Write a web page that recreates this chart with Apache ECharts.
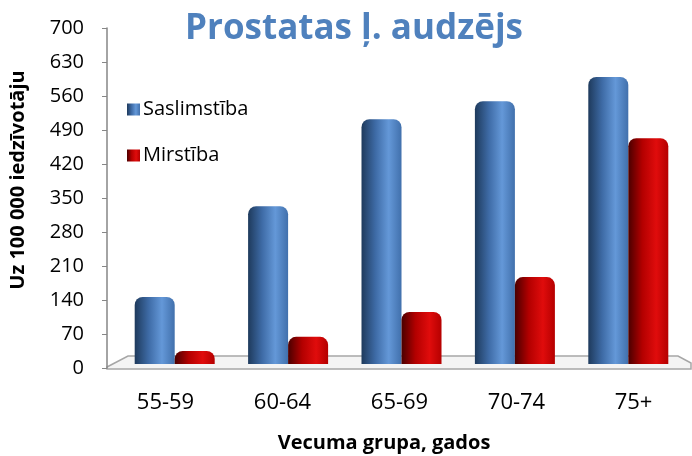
<!DOCTYPE html>
<html>
<head>
<meta charset="utf-8">
<script src="https://cdn.jsdelivr.net/npm/echarts@6/dist/echarts.min.js"></script>
<style>
html,body{margin:0;padding:0;background:#fff;}
#c{width:692px;height:456px;}
</style>
</head>
<body>
<div id="c"></div>
<script>
var categories = ['55-59', '60-64', '65-69', '70-74', '75+'];
var saslimstiba = [138, 325, 504, 541, 591];
var mirstiba = [27, 56, 107, 179, 465];
var yTicks = [0, 70, 140, 210, 280, 350, 420, 490, 560, 630, 700];
var titleText = 'Prostatas ļ. audzējs';
var yName = 'Uz 100 000 iedzīvotāju';
var xName = 'Vecuma grupa, gados';
var seriesNames = ['Saslimstība', 'Mirstība'];

var FONT = '"Open Sans", sans-serif';
var blueGrad = new echarts.graphic.LinearGradient(0, 0, 1, 0, [
  {offset: 0, color: '#1e3a5c'},
  {offset: 0.35, color: '#3e6ba6'},
  {offset: 0.68, color: '#6498d8'},
  {offset: 1, color: '#4170ac'}
]);
var redGrad = new echarts.graphic.LinearGradient(0, 0, 1, 0, [
  {offset: 0, color: '#4a0000'},
  {offset: 0.35, color: '#b30000'},
  {offset: 0.7, color: '#e00c0c'},
  {offset: 1, color: '#b50000'}
]);

var chart = echarts.init(document.getElementById('c'), null, {renderer: 'canvas'});
chart.setOption({
  animation: false,
  title: {
    text: titleText,
    left: 349, top: 7, textAlign: 'center',
    textStyle: {fontFamily: FONT, fontWeight: 'bold', fontSize: 35, color: '#4f81bd'}
  },
  legend: {
    orient: 'vertical', left: 122, top: 93,
    icon: 'rect',
    itemWidth: 13, itemHeight: 12, itemGap: 23,
    data: seriesNames,
    textStyle: {fontFamily: FONT, fontSize: 20, color: '#000', lineHeight: 23, padding: [0,0,0,-2]}
  },
  graphic: [
    {
      type: 'polygon', z: 0,
      shape: {points: [[107, 367], [128, 356], [678, 356], [691, 363], [691, 369], [107, 369]]},
      style: {fill: '#f4f4f4', stroke: '#a6a6a6', lineWidth: 1.5}
    },
    {
      type: 'text', rotation: Math.PI / 2,
      x: 18, y: 180,
      style: {text: yName, fontFamily: FONT, fontWeight: 'bold', fontSize: 20, fill: '#000',
              textAlign: 'center', textVerticalAlign: 'middle'}
    },
    {
      type: 'text', x: 384, y: 443,
      style: {text: xName, fontFamily: FONT, fontWeight: 'bold', fontSize: 20, fill: '#000',
              textAlign: 'center', textVerticalAlign: 'middle'}
    }
  ],
  grid: [
    {left: 118, right: 7, top: 24, bottom: 92},
    {left: 107, right: 0, top: 28, bottom: 88}
  ],
  xAxis: [
    {type: 'category', gridIndex: 0, data: categories, show: false},
    {type: 'category', gridIndex: 1, data: categories,
     axisLine: {show: false}, axisTick: {show: false},
     axisLabel: {fontFamily: FONT, fontSize: 22, color: '#000', margin: 24}}
  ],
  yAxis: [
    {type: 'value', gridIndex: 0, min: 0, max: 700, interval: 70, show: false, splitLine: {show: false}},
    {type: 'value', gridIndex: 1, min: yTicks[0], max: yTicks[yTicks.length - 1], interval: yTicks[1] - yTicks[0],
     axisLine: {show: true, lineStyle: {color: '#868686', width: 1.5}},
     axisTick: {show: true, length: 5, lineStyle: {color: '#868686'}},
     splitLine: {show: false},
     axisLabel: {fontFamily: FONT, fontSize: 20, color: '#000', margin: 23}}
  ],
  series: [
    {
      name: seriesNames[0], type: 'bar', xAxisIndex: 0, yAxisIndex: 0,
      data: saslimstiba, barWidth: 40, barGap: '0%',
      itemStyle: {color: blueGrad, borderRadius: [8, 8, 0, 0]}, z: 2
    },
    {
      name: seriesNames[1], type: 'bar', xAxisIndex: 0, yAxisIndex: 0,
      data: mirstiba, barWidth: 40, barGap: '0%',
      itemStyle: {color: redGrad, borderRadius: [8, 8, 0, 0]}, z: 2
    }
  ]
});
</script>
</body>
</html>
